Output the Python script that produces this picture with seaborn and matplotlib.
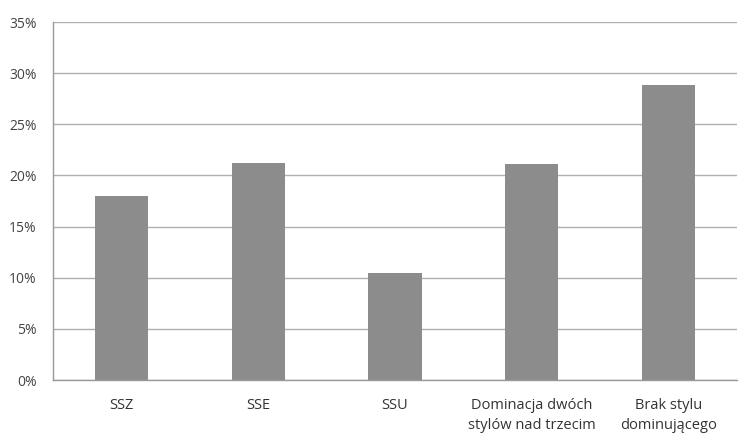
import matplotlib
matplotlib.use("Agg")
import matplotlib.pyplot as plt
from matplotlib.ticker import FixedLocator, PercentFormatter
import seaborn as sns
import pandas as pd

categories = ["SSZ", "SSE", "SSU", "Dominacja dwóch\nstylów nad trzecim", "Brak stylu\ndominującego"]
shares = [18.0, 21.2, 10.5, 21.1, 28.8]
y_ticks = [0, 5, 10, 15, 20, 25, 30, 35]

sns.set_theme(style="white")
plt.rcParams["font.family"] = ["Open Sans", "DejaVu Sans"]

df = pd.DataFrame({"kategoria": categories, "udzial": shares})

fig = plt.figure(figsize=(7.39, 4.36), dpi=100)
ax = fig.add_axes([0.072, 0.1284, 0.925, 0.8211])

ax.yaxis.grid(True, color="#b0b0b0", linewidth=1.0)
ax.set_axisbelow(True)

sns.barplot(data=df, x="kategoria", y="udzial", color="#8c8c8c",
            saturation=1, width=0.39, ax=ax, edgecolor="none")

ax.set_ylim(0, 35)
ax.set_xlim(-0.5, len(categories) - 0.5)
ax.set_yticks(y_ticks)
ax.yaxis.set_major_formatter(PercentFormatter(decimals=0))
ax.set_xlabel("")
ax.set_ylabel("")

# category separators on the x axis
ax.xaxis.set_minor_locator(FixedLocator([i + 0.5 for i in range(len(categories) - 1)]))
ax.tick_params(axis="x", which="major", length=0, pad=13, labelsize=10.5, labelcolor="#333333")
ax.tick_params(axis="x", which="minor", length=5, width=1, color="#999999", direction="out")
ax.tick_params(axis="y", length=4, width=1, color="#999999", direction="out",
               pad=8, labelsize=10, labelcolor="#444444")
for lbl in ax.get_xticklabels():
    lbl.set_linespacing(1.45)

for side in ["top", "right"]:
    ax.spines[side].set_visible(False)
for side in ["left", "bottom"]:
    ax.spines[side].set_color("#999999")
    ax.spines[side].set_linewidth(1.0)

fig.savefig("out.png", dpi=100, facecolor="white")
